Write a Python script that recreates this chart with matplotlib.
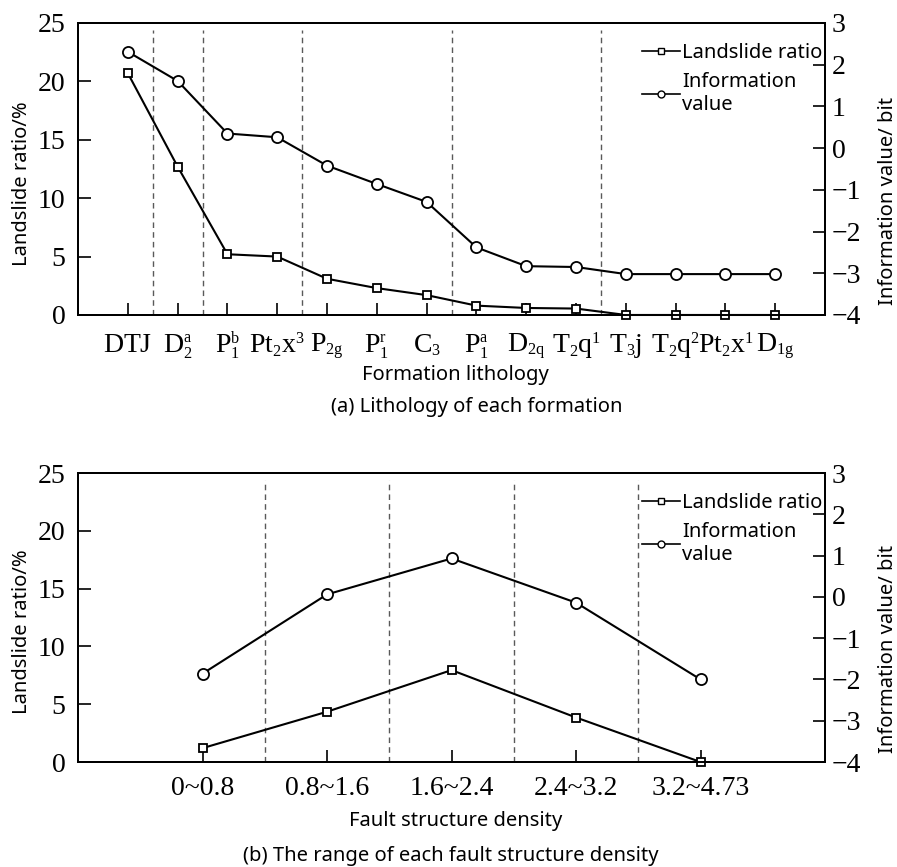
# -*- coding: utf-8 -*-
# landslide ratio / information value by factor class
#

import matplotlib
matplotlib.use("Agg")
import matplotlib.pyplot as plt
from matplotlib.lines import Line2D

# smaller sub/superscripts in the formation codes
try:
    import matplotlib._mathtext as _mt
    _mt.SHRINK_FACTOR = 0.58
except Exception:
    pass

plt.rcParams['font.family'] = ['Liberation Serif', 'DejaVu Serif']
plt.rcParams['mathtext.fontset'] = 'custom'
plt.rcParams['mathtext.rm'] = 'Liberation Serif'
plt.rcParams['mathtext.it'] = 'Liberation Serif:italic'
plt.rcParams['axes.linewidth'] = 1.4

SANS = ['Noto Sans', 'DejaVu Sans']

# (a) formation lithology
lith_labels = [r'$\mathrm{DTJ}$', r'$\mathrm{D_2^a}$', r'$\mathrm{P_1^b}$', r'$\mathrm{Pt_2x^3}$',
               r'$\mathrm{P_{2g}}$', r'$\mathrm{P_1^r}$', r'$\mathrm{C_3}$', r'$\mathrm{P_1^a}$',
               r'$\mathrm{D_{2q}}$', r'$\mathrm{T_2q^1}$', r'$\mathrm{T_3j}$', r'$\mathrm{T_2q^2}$',
               r'$\mathrm{Pt_2x^1}$', r'$\mathrm{D_{1g}}$']
lith_ratio = [20.7, 12.7, 5.2, 5.0, 3.1, 2.3, 1.7, 0.8, 0.6, 0.55, 0, 0, 0, 0]
lith_info = [2.31, 1.61, 0.35, 0.26, -0.42, -0.86, -1.29, -2.38, -2.83, -2.85,
             -3.02, -3.02, -3.02, -3.02]
lith_groups = [1.5, 2.5, 4.5, 7.5, 10.5]   # dashed separators between groups

# (b) fault structure density
fault_labels = ['0~0.8', '0.8~1.6', '1.6~2.4', '2.4~3.2', '3.2~4.73']
fault_ratio = [1.2, 4.35, 7.95, 3.85, 0]
fault_info = [-1.86, 0.06, 0.93, -0.14, -2.0]
fault_groups = [1.5, 2.5, 3.5, 4.5]


def draw_panel(fig, rect, labels, ratio, info, groups, xlabel, xpad):
    ax = fig.add_axes(rect)
    ax2 = ax.twinx()
    x = list(range(1, len(labels) + 1))

    for g in groups:
        ax.axvline(g, ymin=0, ymax=0.975, color='0.35', lw=1.0,
                   dashes=(4, 3), zorder=1)

    ax.plot(x, ratio, color='k', lw=1.5, marker='s', ms=6, mfc='white',
            mec='k', mew=1.3, clip_on=False, zorder=5)
    ax2.plot(x, info, color='k', lw=1.5, marker='o', ms=8, mfc='white',
             mec='k', mew=1.3, clip_on=False, zorder=5)

    ax.set_xlim(0, len(labels) + 1)
    ax.set_ylim(0, 25)
    ax2.set_ylim(-4, 3)
    ax.set_xticks(x)
    ax.set_xticklabels(labels)
    ax.set_yticks([0, 5, 10, 15, 20, 25])
    ax2.set_yticks([-4, -3, -2, -1, 0, 1, 2, 3])

    ax.tick_params(axis='x', direction='in', length=9, width=1.2,
                   labelsize=20, pad=xpad)
    for lbl in ax.get_xticklabels():
        lbl.set_va('baseline')
    ax.tick_params(axis='y', direction='in', length=9, width=1.2,
                   labelsize=20, pad=9)
    ax2.tick_params(axis='y', direction='in', length=9, width=1.2,
                    labelsize=20, pad=5)

    ax.set_ylabel('Landslide ratio/%', family=SANS, fontsize=14.5)
    ax.yaxis.set_label_coords(-0.062, 0.45)
    ax2.set_ylabel('Information value/ bit', family=SANS, fontsize=14.5)
    ax2.yaxis.set_label_coords(1.071, 0.39)
    ax.set_xlabel(xlabel, family=SANS, fontsize=14.5)
    ax.xaxis.set_label_coords(0.505, -0.17)

    handles = [
        Line2D([], [], color='k', lw=1.2, marker='s', ms=4, mfc='white', mec='k'),
        Line2D([], [], color='k', lw=1.2, marker='o', ms=5, mfc='white', mec='k'),
    ]
    ax2.legend(handles, ['Landslide ratio', 'Information\nvalue'],
               loc='upper left', bbox_to_anchor=(0.755, 0.93),
               frameon=False, borderpad=0, borderaxespad=0,
               handlelength=1.9, handletextpad=0.1, labelspacing=0.45,
               prop={'family': SANS, 'size': 14.5})
    return ax, ax2


fig = plt.figure(figsize=(8.97, 8.67), dpi=100)

draw_panel(fig, [0.087, 0.6367, 0.8328, 0.3368], lith_labels, lith_ratio,
           lith_info, lith_groups, 'Formation lithology', 27)
fig.text(0.531, 0.5306, '(a) Lithology of each formation', family=SANS,
         fontsize=14.5, ha='center', va='center')

draw_panel(fig, [0.087, 0.1211, 0.8328, 0.3333], fault_labels, fault_ratio,
           fault_info, fault_groups, 'Fault structure density', 24)
fig.text(0.502, 0.0127, '(b) The range of each fault structure density',
         family=SANS, fontsize=14.5, ha='center', va='center')

fig.savefig('out.png', dpi=100)
